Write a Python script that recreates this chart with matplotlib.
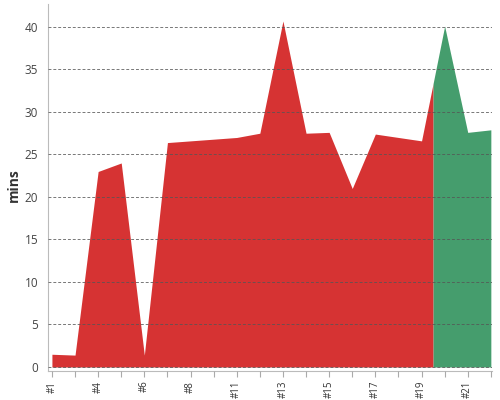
import numpy as np
import matplotlib
matplotlib.use("Agg")
import matplotlib.pyplot as plt

labels = ["#1", "#3", "#4", "#5", "#6", "#7", "#8", "#10", "#11", "#12",
          "#13", "#14", "#15", "#16", "#17", "#18", "#19", "#20", "#21", "#22"]
values = [1.5, 1.4, 23.0, 24.0, 1.4, 26.4, 26.6, 26.8, 27.0, 27.5,
          40.7, 27.5, 27.6, 21.0, 27.4, 27.0, 26.6, 40.1, 27.6, 27.9]
split_after = 16  # last index in the red segment; colour changes halfway to next

red = "#d63333"
green = "#459d6d"

plt.rcParams['font.family'] = ['Open Sans', 'DejaVu Sans']

fig = plt.figure(figsize=(5, 4), dpi=100)
ax = fig.add_axes([0.096, 0.0725, 0.888, 0.9175])

x = np.arange(len(values), dtype=float)
y = np.array(values)
xs = split_after + 0.5
ys = np.interp(xs, x, y)

xr = np.concatenate([x[:split_after + 1], [xs]])
yr = np.concatenate([y[:split_after + 1], [ys]])
xg = np.concatenate([[xs], x[split_after + 1:]])
yg = np.concatenate([[ys], y[split_after + 1:]])

ax.fill_between(xr, 0, yr, color=red, linewidth=0, zorder=1)
ax.fill_between(xg, 0, yg, color=green, linewidth=0, zorder=1)

ax.set_xlim(-0.17, len(values) - 1 + 0.05)
ax.set_ylim(-0.47, 42.7)

ax.set_yticks(np.arange(0, 45, 5))
ax.set_xticks(x)
ax.set_xticklabels([l if i % 2 == 0 else "" for i, l in enumerate(labels)],
                   rotation=90, fontsize=7, color="#333333")
ax.tick_params(axis='x', length=4, color="#aaaaaa", pad=3)
ax.tick_params(axis='y', length=0, labelsize=8.5, labelcolor="#444444", pad=7)

ax.grid(axis='y', linestyle=(0, (3, 2)), color="#555555", linewidth=0.7, alpha=0.8, zorder=2)
ax.set_axisbelow(False)
for gl in ax.get_ygridlines():
    gl.set_zorder(2)

for s in ["top", "right"]:
    ax.spines[s].set_visible(False)
ax.spines["left"].set_color("#bbbbbb")
ax.spines["bottom"].set_color("#bbbbbb")

ax.set_ylabel("mins", fontsize=10, fontweight="bold", color="#333333")
ax.yaxis.set_label_coords(-0.061, 0.507)

fig.savefig("out.png", dpi=100)
